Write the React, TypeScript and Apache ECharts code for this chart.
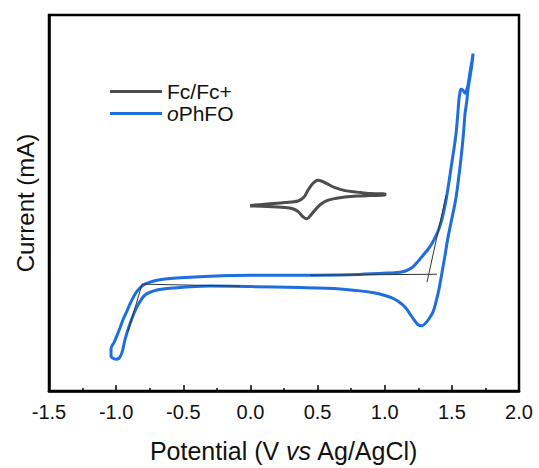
import React, { useEffect, useRef } from "react";
import * as echarts from "echarts";

// Potential (V vs Ag/AgCl), current in arbitrary mA-like units (no y tick labels in the reference)
const fcData: number[][] = [
  [-0.003, 1.8875], [0.123, 1.925], [0.257, 1.9625], [0.354, 2.0], [0.399, 2.1],
  [0.429, 2.275], [0.466, 2.45], [0.503, 2.525], [0.533, 2.5], [0.57, 2.4375],
  [0.63, 2.3375], [0.704, 2.2625], [0.794, 2.225], [0.891, 2.1875], [1.002, 2.175],
  [1.002, 2.15], [0.891, 2.1375], [0.794, 2.125], [0.704, 2.1], [0.63, 2.0625],
  [0.57, 2.0125], [0.526, 1.925], [0.488, 1.8], [0.451, 1.65], [0.421, 1.55],
  [0.392, 1.6], [0.354, 1.7375], [0.31, 1.8125], [0.257, 1.8375], [0.123, 1.8625],
  [-0.003, 1.875],
];

const phfoData: number[][] = [
  [-1.008, -2.0], [-1.038, -1.925], [-1.038, -1.725], [-1.016, -1.575], [-0.994, -1.4],
  [-0.971, -1.2], [-0.949, -1.0], [-0.919, -0.775], [-0.897, -0.6], [-0.867, -0.4],
  [-0.837, -0.25], [-0.8, -0.125], [-0.748, -0.05], [-0.696, 0.0], [-0.577, 0.05],
  [-0.301, 0.1], [0.0, 0.125], [0.369, 0.125], [0.742, 0.1375], [0.987, 0.175],
  [1.077, 0.1875], [1.136, 0.2125], [1.181, 0.275], [1.211, 0.3375], [1.248, 0.475],
  [1.285, 0.625], [1.322, 0.775], [1.352, 0.925], [1.382, 1.125], [1.404, 1.3],
  [1.427, 1.55], [1.442, 1.775], [1.457, 2.025], [1.471, 2.325], [1.486, 2.65],
  [1.501, 3.0], [1.516, 3.325], [1.531, 3.7], [1.538, 3.95], [1.546, 4.275],
  [1.553, 4.575], [1.561, 4.75], [1.568, 4.825], [1.583, 4.8], [1.598, 4.725],
  [1.605, 4.75], [1.62, 4.925], [1.635, 5.25], [1.65, 5.55], [1.658, 5.725],
  [1.65, 5.475], [1.635, 5.125], [1.62, 4.825], [1.613, 4.575], [1.598, 4.2],
  [1.591, 3.9], [1.583, 3.575], [1.568, 3.075], [1.553, 2.65], [1.538, 2.25],
  [1.524, 1.95], [1.501, 1.575], [1.471, 1.075], [1.449, 0.625], [1.427, 0.2],
  [1.404, -0.225], [1.382, -0.55], [1.36, -0.8], [1.33, -0.975], [1.3, -1.1],
  [1.278, -1.15], [1.248, -1.125], [1.218, -1.0], [1.188, -0.85], [1.151, -0.675],
  [1.107, -0.55], [1.054, -0.45], [1.002, -0.3875], [0.928, -0.325], [0.816, -0.27],
  [0.667, -0.22], [0.369, -0.1875], [0.0, -0.1625], [-0.301, -0.15], [-0.577, -0.2],
  [-0.696, -0.25], [-0.785, -0.375], [-0.845, -0.675], [-0.897, -1.1], [-0.934, -1.5],
  [-0.956, -1.825], [-0.979, -1.975], [-1.008, -2.0],
];

// onset tangent construction lines
const tangentRightBase: number[][] = [[0.444, 0.125], [1.389, 0.15]];
const tangentRightSlope: number[][] = [[1.315, -0.05], [1.457, 2.15]];
const tangentLeftBase: number[][] = [[-0.807, -0.1], [-0.078, -0.15]];
const tangentLeftSlope: number[][] = [[-0.807, -0.1], [-0.912, -1.3]];

const xTicks = { min: -1.5, max: 2.0, interval: 0.5 };
const yRange = { min: -2.8, max: 6.7 };

const FONT = "Liberation Sans, Arial, sans-serif";
const BLUE = "#1e6ee0";
const GREY = "#4d4d4d";

export default function App() {
  const ref = useRef<HTMLDivElement>(null);
  useEffect(() => {
    document.body.style.margin = "0";
    if (!ref.current) return;
    const chart = echarts.init(ref.current, null, { renderer: "svg" });
    const thin = (data: number[][]) => ({
      type: "line",
      data,
      symbol: "none",
      silent: true,
      lineStyle: { color: "#333", width: 1 },
      z: 3,
    });
    chart.setOption({
      animation: false,
      backgroundColor: "#fff",
      textStyle: { fontFamily: FONT },
      grid: {
        left: 49,
        right: 20,
        top: 15,
        bottom: 73,
        show: true,
        borderColor: "#000",
        borderWidth: 2.5,
      },
      legend: {
        left: 110,
        top: 81,
        orient: "vertical",
        padding: 0,
        icon: "rect",
        itemWidth: 52,
        itemHeight: 3,
        itemGap: 1,
        data: ["Fc/Fc+", "oPhFO"],
        formatter: (name: string) => (name === "oPhFO" ? "{i|o}PhFO" : name),
        textStyle: {
          fontSize: 21,
          color: "#111",
          fontFamily: FONT,
          rich: {
            i: { fontStyle: "italic", fontSize: 21, color: "#111", fontFamily: FONT },
          },
        },
      },
      xAxis: {
        type: "value",
        min: xTicks.min,
        max: xTicks.max,
        interval: xTicks.interval,
        name: "Potential (V {i|vs} Ag/AgCl)",
        nameLocation: "middle",
        nameGap: 47,
        nameTextStyle: {
          fontSize: 25,
          color: "#111",
          fontFamily: FONT,
          rich: { i: { fontStyle: "italic", fontSize: 25, color: "#111", fontFamily: FONT } },
        },
        axisLine: { show: true, onZero: false, lineStyle: { color: "#000", width: 2.5 } },
        axisTick: { show: true, inside: true, length: 6, lineStyle: { color: "#000", width: 1.5 } },
        minorTick: { show: true, splitNumber: 2, length: 3, lineStyle: { color: "#000", width: 1.5 } },
        axisLabel: {
          fontSize: 20,
          color: "#111",
          margin: 11,
          fontFamily: FONT,
          formatter: (v: number) => v.toFixed(1),
        },
        splitLine: { show: false },
      },
      yAxis: {
        type: "value",
        min: yRange.min,
        max: yRange.max,
        name: "Current (mA)",
        nameLocation: "middle",
        nameGap: 12,
        nameTextStyle: { fontSize: 24, color: "#111", fontFamily: FONT },
        axisLine: { show: true, onZero: false, lineStyle: { color: "#000", width: 2.5 } },
        axisTick: { show: false },
        axisLabel: { show: false },
        splitLine: { show: false },
      },
      series: [
        {
          name: "Fc/Fc+",
          type: "line",
          data: fcData,
          symbol: "none",
          smooth: 0.3,
          lineStyle: { color: GREY, width: 3 },
          itemStyle: { color: GREY },
          z: 2,
        },
        {
          name: "oPhFO",
          type: "line",
          data: phfoData,
          symbol: "none",
          smooth: 0.3,
          lineStyle: { color: BLUE, width: 3 },
          itemStyle: { color: BLUE },
          z: 2,
        },
        thin(tangentRightBase),
        thin(tangentRightSlope),
        thin(tangentLeftBase),
        thin(tangentLeftSlope),
      ],
    });
    return () => chart.dispose();
  }, []);
  return <div ref={ref} style={{ width: 539, height: 468 }} />;
}
